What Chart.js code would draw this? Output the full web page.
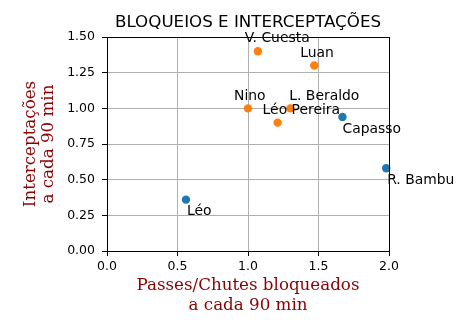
<!DOCTYPE html>
<html>
<head>
<meta charset="utf-8">
<script src="https://cdn.jsdelivr.net/npm/chart.js@4"></script>
<style>
  html, body { margin: 0; padding: 0; background: #fff; }
  #wrap { width: 459px; height: 324px; }
</style>
</head>
<body>
<div id="wrap"><canvas id="chart"></canvas></div>
<script>
// players grouped by colour
const blueNames = ["Léo", "Capasso", "R. Bambu"];
const blueX = [0.56, 1.67, 1.98];
const blueY = [0.36, 0.94, 0.58];

const orangeNames = ["V. Cuesta", "Luan", "Nino", "L. Beraldo", "Léo Pereira"];
const orangeX = [1.07, 1.47, 1.0, 1.3, 1.21];
const orangeY = [1.4, 1.3, 1.0, 1.0, 0.9];

const xTicks = [0, 0.5, 1.0, 1.5, 2.0];
const yTicks = [0, 0.25, 0.5, 0.75, 1.0, 1.25, 1.5];

const titleText = "BLOQUEIOS E INTERCEPTAÇÕES";
const xTitle = ["Passes/Chutes bloqueados", "a cada 90 min"];
const yTitle = ["Interceptações", "a cada 90 min"];

// where each name sits relative to its dot (text left edge, text middle)
const labelOffset = {
    "V. Cuesta": [-13, -13],
    "Luan": [-14, -12],
    "Nino": [-14, -12],
    "L. Beraldo": [-1, -12],
    "Léo Pereira": [-15, -12],
    "Capasso": [0, 12],
    "R. Bambu": [1, 12],
    "Léo": [1, 12]
};

const sans = "'DejaVu Sans', sans-serif";
const serif = "'DejaVu Serif', serif";
const axisRed = "#8b0000";

function points(xs, ys) {
    return xs.map((x, i) => ({ x: x, y: ys[i] }));
}

const nameLabels = {
    id: "nameLabels",
    afterDatasetsDraw(chart) {
        const ctx = chart.ctx;
        ctx.save();
        ctx.font = "13.9px " + sans;
        ctx.fillStyle = "#000";
        ctx.textAlign = "left";
        ctx.textBaseline = "middle";
        chart.data.datasets.forEach((ds, di) => {
            const meta = chart.getDatasetMeta(di);
            meta.data.forEach((pt, i) => {
                const name = ds.names[i];
                const off = labelOffset[name] || [0, 0];
                ctx.fillText(name, pt.x + off[0], pt.y + off[1]);
            });
        });
        ctx.restore();
    }
};

// matplotlib-style box round the plot
const frame = {
    id: "frame",
    afterDatasetsDraw(chart) {
        const a = chart.chartArea;
        const ctx = chart.ctx;
        ctx.save();
        ctx.strokeStyle = "#000";
        ctx.lineWidth = 1;
        ctx.strokeRect(Math.round(a.left) + 0.5, Math.round(a.top) + 0.5,
            Math.round(a.right - a.left), Math.round(a.bottom - a.top));
        ctx.restore();
    }
};

new Chart(document.getElementById("chart"), {
    type: "scatter",
    data: {
        datasets: [
            {
                data: points(blueX, blueY),
                names: blueNames,
                backgroundColor: "#1f77b4",
                borderWidth: 0,
                pointRadius: 4.2
            },
            {
                data: points(orangeX, orangeY),
                names: orangeNames,
                backgroundColor: "#ff7f0e",
                borderWidth: 0,
                pointRadius: 4.2
            }
        ]
    },
    options: {
        responsive: true,
        maintainAspectRatio: false,
        animation: false,
        clip: false,
        layout: { padding: { left: 0, right: 70, top: 0, bottom: 0 } },
        plugins: {
            legend: { display: false },
            tooltip: { enabled: false },
            title: {
                display: true,
                fullSize: false,
                text: titleText,
                color: "#000",
                font: { family: sans, size: 16.7, weight: "normal", lineHeight: 1.2 },
                padding: { top: 13, bottom: 4 }
            }
        },
        scales: {
            x: {
                type: "linear",
                min: 0,
                max: 2,
                afterBuildTicks: s => { s.ticks = xTicks.map(v => ({ value: v })); },
                afterFit: s => { s.height = 73; },
                grid: { color: "#b0b0b0", tickColor: "#000", tickLength: 5 },
                border: { display: false },
                ticks: {
                    color: "#000",
                    padding: 3,
                    maxRotation: 0,
                    font: { family: sans, size: 12.5 },
                    callback: v => v.toFixed(1)
                },
                title: {
                    display: true,
                    text: xTitle,
                    color: axisRed,
                    font: { family: serif, size: 16.7, lineHeight: 1.2 },
                    padding: { top: 0, bottom: 8 }
                }
            },
            y: {
                type: "linear",
                min: 0,
                max: 1.5,
                afterBuildTicks: s => { s.ticks = yTicks.map(v => ({ value: v })); },
                afterFit: s => { s.width = 107; },
                grid: { color: "#b0b0b0", tickColor: "#000", tickLength: 5 },
                border: { display: false },
                ticks: {
                    color: "#000",
                    padding: 7,
                    font: { family: sans, size: 12.5 },
                    callback: v => v.toFixed(2)
                },
                title: {
                    display: true,
                    text: yTitle,
                    color: axisRed,
                    font: { family: serif, size: 16.7, lineHeight: 1.05 },
                    padding: { top: 22, bottom: 0 }
                }
            }
        }
    },
    plugins: [nameLabels, frame]
});
</script>
</body>
</html>
